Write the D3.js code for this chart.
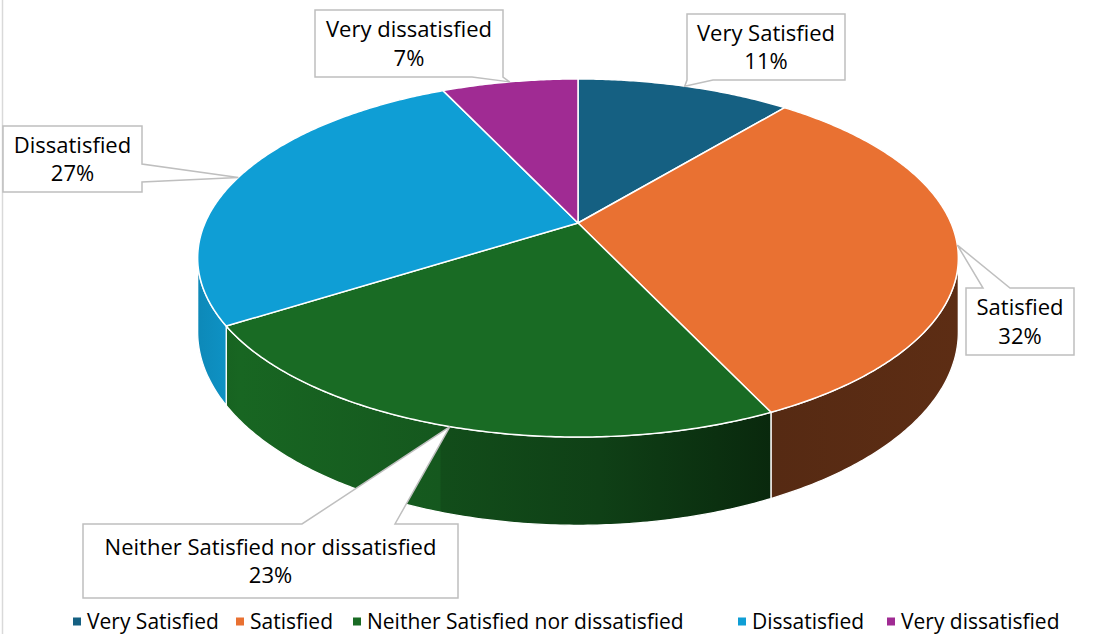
<!DOCTYPE html>
<html lang="en">
<head>
    <meta charset="UTF-8">
    <title>Satisfaction 3D Pie</title>
    <script src="https://d3js.org/d3.v7.min.js"></script>
    <style>
        body {
            margin: 0;
            background: #fff;
        }

        svg text {
            font-family: "Open Sans", "Liberation Sans", Arial, sans-serif;
            fill: #000;
        }
    </style>
</head>
<body>
    <div id="chart"></div>

    <script>
        // Chart data
        const categories = ["Very Satisfied", "Satisfied", "Neither Satisfied nor dissatisfied", "Dissatisfied", "Very dissatisfied"];
        const values = [11, 32, 23, 27, 7];
        const colors = ["#156082", "#E97132", "#196B24", "#0F9ED5", "#A02B93"];

        const width = 1095, height = 634;

        const svg = d3.select("#chart")
            .append("svg")
            .attr("width", width)
            .attr("height", height);

        // chart border (only the left edge shows in the crop)
        svg.append("rect")
            .attr("x", 2.5).attr("y", -5)
            .attr("width", width + 20).attr("height", height + 10)
            .attr("fill", "none")
            .attr("stroke", "#d9d9d9")
            .attr("stroke-width", 1.5);

        const color = d3.scaleOrdinal().domain(categories).range(colors);

        // perspective projection of the disc: angle a (clockwise from 12 o'clock), h = 0 top face, 1 bottom face
        const cx = 578, cy = 223, kx = 373, my = 172.2, q = 0.1955, depth = 71;
        function proj(a, h) {
            const u = Math.sin(a), v = Math.cos(a);
            const d = 1 + q * v;
            return [cx + kx * u / d, cy + (-my * v + h * depth) / d];
        }

        function arcPoints(a0, a1, h) {
            const n = Math.max(2, Math.ceil(Math.abs(a1 - a0) / 0.01));
            return d3.range(n + 1).map(i => proj(a0 + (a1 - a0) * i / n, h));
        }

        const pie = d3.pie().sort(null).value(d => d.value);
        const slices = pie(categories.map((c, i) => ({ name: c, value: values[i] })));
        const total = d3.sum(values);

        const line = d3.line();

        // side shading, brighter on the left, darker to the right
        const shadeStops = [[195, 0.86], [240, 0.95], [440, 0.82], [441, 0.72], [600, 0.6], [775, 0.37], [960, 0.4]];
        const defs = svg.append("defs");
        slices.forEach((s, i) => {
            const base = d3.rgb(color(s.data.name));
            const grad = defs.append("linearGradient")
                .attr("id", "side-" + i)
                .attr("gradientUnits", "userSpaceOnUse")
                .attr("x1", 195).attr("x2", 960)
                .attr("y1", 0).attr("y2", 0);
            shadeStops.forEach(([x, f]) => {
                grad.append("stop")
                    .attr("offset", (x - 195) / (960 - 195))
                    .attr("stop-color", d3.rgb(base.r * f, base.g * f, base.b * f).formatHex());
            });
        });

        // visible part of the side wall (front half between the silhouette angles)
        const aRight = Math.acos(-q), aLeft = 2 * Math.PI - aRight;

        const sides = svg.append("g");
        slices.forEach((s, i) => {
            const a0 = Math.max(s.startAngle, aRight), a1 = Math.min(s.endAngle, aLeft);
            if (a1 <= a0) return;
            const pts = arcPoints(a0, a1, 0).concat(arcPoints(a1, a0, 1));
            sides.append("path")
                .attr("d", line(pts) + "Z")
                .attr("fill", `url(#side-${i})`)
                .attr("stroke", "#fff")
                .attr("stroke-width", 1.3)
                .attr("stroke-linejoin", "round");
        });

        const tops = svg.append("g");
        slices.forEach(s => {
            const pts = [[cx, cy]].concat(arcPoints(s.startAngle, s.endAngle, 0));
            tops.append("path")
                .attr("d", line(pts) + "Z")
                .attr("fill", color(s.data.name))
                .attr("stroke", "#fff")
                .attr("stroke-width", 1.5)
                .attr("stroke-linejoin", "round");
        });

        // callout boxes: box [x0, y0, x1, y1], side of the pointer, pointer base range
        const callouts = [
            { box: [687, 14, 845, 80], side: "bottom", base: [687, 713] },
            { box: [966, 288, 1074, 355], side: "top", base: [983, 1010] },
            { box: [83, 524, 458, 598], side: "top", base: [302, 395] },
            { box: [3, 126, 142, 192], side: "right", base: [164, 182] },
            { box: [315, 10, 503, 77], side: "bottom", base: [472, 503] }
        ];

        function calloutPath(c, tip) {
            const [x0, y0, x1, y1] = c.box, [b0, b1] = c.base;
            const t = tip.join(",");
            if (c.side === "top")
                return `M${x0},${y0}H${b0}L${t}L${b1},${y0}H${x1}V${y1}H${x0}Z`;
            if (c.side === "right")
                return `M${x0},${y0}H${x1}V${b0}L${t}L${x1},${b1}V${y1}H${x0}Z`;
            return `M${x0},${y0}H${x1}V${y1}H${b1}L${t}L${b0},${y1}H${x0}Z`;
        }

        const labels = svg.append("g");
        slices.forEach((s, i) => {
            const c = callouts[i];
            const tip = proj((s.startAngle + s.endAngle) / 2, 0);
            labels.append("path")
                .attr("d", calloutPath(c, tip))
                .attr("fill", "#fff")
                .attr("stroke", "#bfbfbf")
                .attr("stroke-width", 1.5)
                .attr("stroke-linejoin", "miter");
            const mx = (c.box[0] + c.box[2]) / 2;
            const my0 = (c.box[1] + c.box[3]) / 2;
            const t = labels.append("text")
                .attr("text-anchor", "middle")
                .style("font-size", "22px");
            t.append("tspan").attr("x", mx).attr("y", my0 - 6.5).text(s.data.name);
            t.append("tspan").attr("x", mx).attr("y", my0 + 22).text(Math.round(s.data.value / total * 100) + "%");
        });

        // legend, marker positions as in the original layout
        const legendX = [73, 236, 353, 738, 887];
        const legend = svg.append("g");
        categories.forEach((name, i) => {
            legend.append("rect")
                .attr("x", legendX[i]).attr("y", 617.5)
                .attr("width", 8).attr("height", 8)
                .attr("fill", color(name));
            legend.append("text")
                .attr("x", legendX[i] + 14).attr("y", 628.5)
                .style("font-size", "21px")
                .text(name);
        });
    </script>
</body>
</html>
